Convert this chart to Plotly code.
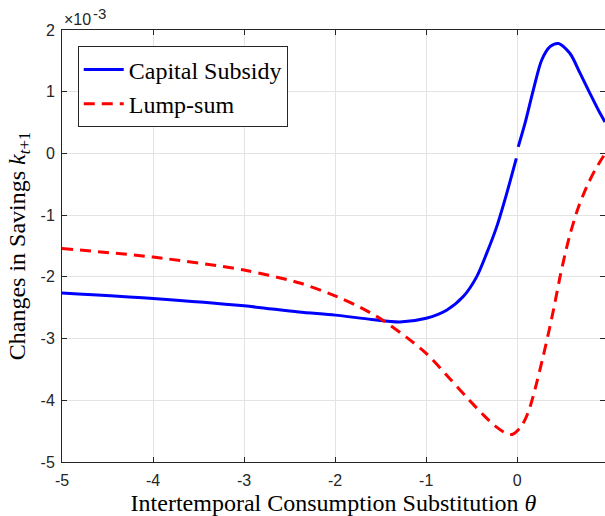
import plotly.graph_objects as go
import math

nan = math.nan

# theta values and changes in savings (units of 1e-3)
theta_cap = [-5, -4, -3, -2.4, -2, -1.6, -1.29, -1.0, -0.776, -0.593, -0.446, -0.336,
             -0.226, -0.116, -0.01, 0, 0.011, 0.085, 0.177, 0.268, 0.36, 0.452, 0.58,
             0.69, 0.8, 0.91, 0.964]
cap_subsidy = [-2.26, -2.35, -2.47, -2.57, -2.62, -2.69, -2.73, -2.67, -2.54, -2.32,
               -2.0, -1.62, -1.19, -0.65, -0.08, nan, 0.107, 0.486, 1.03, 1.51, 1.73,
               1.78, 1.62, 1.30, 0.97, 0.65, 0.51]

theta_ls = [-5, -4, -3, -2.39, -1.98, -1.73, -1.49, -1.215, -1.0, -0.74, -0.556,
            -0.37, -0.23, -0.116, -0.05, 0.03, 0.09, 0.14, 0.213, 0.286, 0.36, 0.414,
            0.47, 0.524, 0.58, 0.67, 0.763, 0.854, 0.945, 0.964]
lump_sum = [-1.54, -1.68, -1.89, -2.10, -2.32, -2.49, -2.69, -2.98, -3.24, -3.65,
            -3.95, -4.24, -4.43, -4.54, -4.55, -4.45, -4.30, -4.11, -3.72, -3.28,
            -2.80, -2.42, -2.0, -1.64, -1.31, -0.88, -0.54, -0.27, -0.05, -0.01]

x_ticks = [-5, -4, -3, -2, -1, 0]
x_ticktext = ["-5", "-4", "-3", "-2", "-1", "0"]
y_ticks = [2, 1, 0, -1, -2, -3, -4, -5]
y_ticktext = ["2", "1", "0", "-1", "-2", "-3", "-4", "-5"]

serif = "Liberation Serif"
sans = "Liberation Sans"
axcol = "#262626"

fig = go.Figure()
fig.add_trace(go.Scatter(
    x=theta_cap, y=cap_subsidy, mode="lines", name="Capital Subsidy",
    line=dict(color="#0000ff", width=3, shape="spline", smoothing=0.8),
    connectgaps=False))
fig.add_trace(go.Scatter(
    x=theta_ls, y=lump_sum, mode="lines", name="Lump-sum",
    line=dict(color="#ff0000", width=3, dash="11px,7px", shape="spline", smoothing=0.8)))

axis_common = dict(
    showline=True, linecolor=axcol, linewidth=1, mirror="ticks",
    ticks="inside", ticklen=5, tickcolor=axcol, tickwidth=1,
    showgrid=True, gridcolor="#e3e3e3", gridwidth=1, zeroline=False,
    tickfont=dict(family=sans, size=16, color=axcol),
)

fig.update_layout(
    width=605, height=516,
    margin=dict(l=62, r=0, t=30, b=54),
    plot_bgcolor="white", paper_bgcolor="white",
    showlegend=True,
    legend=dict(
        x=0.029, y=0.962, xanchor="left", yanchor="top",
        bgcolor="white", bordercolor=axcol, borderwidth=1,
        font=dict(family=serif, size=24, color="black"),
        tracegroupgap=0, itemwidth=40,
    ),
    xaxis=dict(range=[-5, 0.964], tickvals=x_ticks, ticktext=x_ticktext,
               ticklabelstandoff=4,
               title=dict(text="Intertemporal Consumption Substitution <i>θ</i>",
                          font=dict(family=serif, size=24, color="black"), standoff=6),
               **axis_common),
    yaxis=dict(range=[-5, 2], tickvals=y_ticks, ticktext=y_ticktext,
               ticklabelstandoff=3,
               title=dict(text="Changes in Savings <i>k</i><sub><i>t</i>+1</sub>",
                          font=dict(family=serif, size=24, color="black"), standoff=8),
               **axis_common),
    annotations=[
        dict(text="×10", xref="paper", yref="paper", x=0, y=1,
             xanchor="left", yanchor="bottom", showarrow=False, xshift=0, yshift=0,
             font=dict(family=sans, size=16, color=axcol)),
        dict(text="-3", xref="paper", yref="paper", x=0, y=1,
             xanchor="left", yanchor="bottom", showarrow=False, xshift=29, yshift=6,
             font=dict(family=sans, size=15, color=axcol)),
    ],
)

fig.write_html("out.html")
